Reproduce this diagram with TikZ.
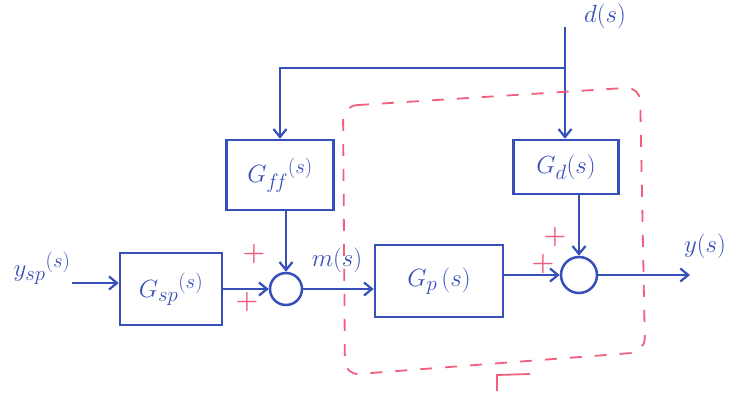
\documentclass[tikz,border=0pt]{standalone}
\usetikzlibrary{arrows.meta,calc}
\definecolor{pen}{RGB}{55,80,185}
\definecolor{redpen}{RGB}{240,95,125}
\begin{document}
\begin{tikzpicture}[x=1pt,y=-1pt,
  line width=2.5pt, draw=pen, text=pen,
  every node/.style={font=\fontsize{28}{32}\selectfont},
  blockbox/.style={draw=pen, line width=2.5pt, rectangle, inner sep=0pt},
  sumnode/.style={draw=pen, line width=2.5pt, circle, inner sep=0pt},
  sig/.style={draw=pen, line width=2.5pt, -{Straight Barb[length=8pt,width=13pt,line width=2.2pt]}},
  plus/.style={text=redpen, font=\fontsize{26}{28}\selectfont\bfseries, inner sep=0pt},
  boundary/.style={draw=redpen, line width=1.8pt, dash pattern=on 12pt off 13pt, rounded corners=14pt},
  lbl/.style={text=pen, inner sep=1pt}]
\useasboundingbox (0,0) rectangle (739,393);
\fill[white] (0,0) rectangle (739,393);

% blocks
\node[blockbox, minimum width=102pt, minimum height=72pt] (gsp) at (171,289) {$G_{sp}{}^{(s)}$};
\node[sumnode, minimum size=32pt] (sum1) at (286,289) {};
\node[blockbox, minimum width=107pt, minimum height=70pt] (gff) at (280,175) {$G_{f\!f}{}^{(s)}$};
\node[blockbox, minimum width=128pt, minimum height=72pt] (gp) at (439,281) {$G_p\,(s)$};
\node[blockbox, minimum width=105pt, minimum height=54pt] (gd) at (566,167) {$G_d(s)$};
\node[sumnode, minimum size=36pt] (sum2) at (579,275) {};

% labels
\node[lbl] (ysp) at (42,268) {$y_{sp}{}^{(s)}$};
\node[lbl] (ms) at (337,260) {$m(s)$};
\node[lbl] (ys) at (705,246) {$y(s)$};
\node[lbl] (ds) at (605,16) {$d(s)$};

\coordinate (yin) at (72,283);
\coordinate (dtop) at (565,27);
\coordinate (junc) at (565,68);
\coordinate (yout) at (690,275);

% connectors
\draw[sig] (yin) -- (gsp.west |- yin);
\draw[sig] (gsp.east |- sum1.west) -- (sum1.west);
\draw[sig] (sum1.east) -- (gp.west |- sum1.east);
\draw[sig] (gp.east |- sum2.west) -- (sum2.west);
\draw[sig] (sum2.east) -- (yout);
\draw[sig] (dtop) -- (gd.north -| dtop);
\draw[sig] (junc) -| (gff.north);
\draw[sig] (gff.south -| sum1.north) -- (sum1.north);
\draw[sig] (gd.south -| sum2.north) -- (sum2.north);

% signs
\node[plus] (p1) at (254,254) {+};
\node[plus] (p2) at (247,302) {+};
\node[plus] (p3) at (555,237) {+};
\node[plus] (p4) at (543,264) {+};

% dashed process boundary
\draw[boundary] (343,106) -- (640,87) -- (645,352) -- (345,375) -- cycle;
\draw[draw=redpen, line width=1.8pt] (497,391) -- (497,375) -- (530,374);
\end{tikzpicture}
\end{document}
